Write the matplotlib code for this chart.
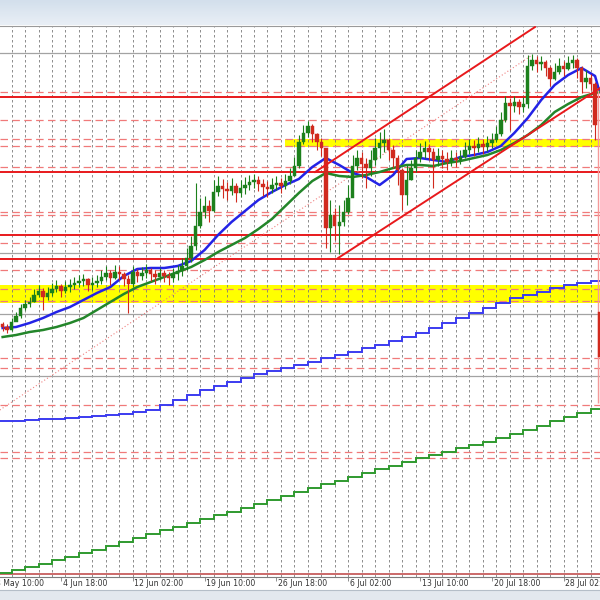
#-----Hourly chart with levels, channel and moving averages-----#
import numpy as np
import matplotlib
matplotlib.use("Agg")
import matplotlib.pyplot as plt
from matplotlib.patches import Rectangle
from matplotlib.collections import LineCollection, PatchCollection

#-----Time axis (hourly bars)-----#
view_hours = (19.3, 1088.8)
grid_hours = np.arange(40, 1073, 24)          # one dotted line per day
tick_hours = np.arange(0, 1025, 128)
tick_labels = ["28 May 10:00", "4 Jun 18:00", "12 Jun 02:00", "19 Jun 10:00",
               "26 Jun 18:00", "6 Jul 02:00", "13 Jul 10:00", "20 Jul 18:00",
               "28 Jul 02:00"]

#-----Price candles (8 hours each)-----#
candle_hours = 24 + 8 * np.arange(134)
first_open = 276
closes = [273, 270, 278, 284, 292, 296, 298, 305, 309, 303, 307, 311, 314, 309, 313, 315, 317, 319, 321, 315,
          317, 319, 323, 327, 322, 328, 326, 321, 316, 328, 324, 327, 330, 326, 323, 327, 324, 322, 326, 329,
          334, 342, 354, 374, 388, 394, 389, 408, 414, 411, 409, 414, 407, 412, 415, 418, 420, 416, 413, 411,
          415, 417, 414, 419, 424, 434, 458, 467, 474, 466, 458, 452, 372, 385, 374, 378, 388, 402, 434, 442,
          436, 432, 440, 452, 457, 460, 450, 442, 430, 405, 420, 432, 442, 448, 452, 448, 440, 444, 441, 438,
          442, 440, 443, 450, 454, 452, 456, 453, 457, 460, 466, 480, 497, 494, 498, 493, 496, 534, 540, 536,
          538, 532, 521, 528, 534, 531, 537, 540, 532, 518, 522, 516, 475, 243]
highs = [278, 276, 282, 288, 296, 300, 303, 311, 315, 312, 313, 317, 320, 316, 319, 321, 323, 325, 326, 322,
         323, 325, 330, 334, 330, 335, 334, 328, 325, 334, 331, 333, 336, 332, 330, 332, 330, 328, 332, 335,
         342, 352, 364, 417, 402, 404, 400, 420, 424, 421, 418, 422, 417, 420, 423, 425, 426, 424, 421, 419,
         422, 424, 422, 426, 432, 443, 465, 475, 479, 476, 467, 462, 452, 400, 392, 395, 400, 415, 445, 450,
         448, 442, 450, 462, 468, 471, 462, 455, 445, 432, 435, 440, 450, 457, 459, 456, 452, 452, 450, 448,
         450, 448, 450, 458, 461, 460, 463, 461, 464, 467, 474, 488, 504, 502, 504, 501, 503, 545, 546, 544,
         544, 540, 534, 537, 542, 539, 544, 545, 542, 534, 530, 526, 518, 288]
lows = [269, 267, 269, 279, 282, 290, 293, 298, 303, 290, 300, 304, 308, 303, 307, 308, 311, 313, 314, 309,
        310, 313, 316, 320, 315, 321, 320, 314, 287, 313, 318, 320, 322, 319, 316, 320, 318, 315, 318, 320,
        324, 330, 338, 350, 372, 382, 378, 388, 404, 402, 400, 405, 398, 403, 406, 410, 412, 409, 404, 403,
        407, 410, 407, 411, 416, 424, 432, 456, 463, 458, 450, 444, 352, 348, 360, 346, 374, 386, 415, 430,
        422, 412, 424, 435, 442, 448, 440, 432, 415, 390, 395, 420, 428, 438, 442, 440, 412, 434, 432, 430,
        434, 433, 436, 442, 446, 444, 448, 446, 449, 452, 458, 464, 478, 470, 488, 486, 488, 492, 530, 528,
        530, 524, 514, 520, 526, 524, 530, 532, 522, 507, 512, 510, 460, 197]
gap_open = {133: 288}

#-----Hourly moving averages (read every third candle)-----#
ma_idx = list(range(0, 133, 3)) + [133]
ma100 = [272, 273, 277, 282, 288, 293, 300, 307, 313, 324, 331, 332, 332, 334, 339, 350, 365, 378, 389, 400,
         408, 415, 421, 433, 442, 435, 427, 423, 415, 425, 441, 442, 440, 438, 443, 445, 448, 454, 467, 482,
         500, 515, 525, 532, 524, 508]
ma200 = [263, 265, 268, 270, 273, 277, 282, 290, 298, 306, 313, 318, 323, 328, 333, 340, 348, 355, 362, 371,
         381, 394, 407, 419, 427, 424, 423, 425, 428, 432, 435, 435, 434, 437, 439, 442, 445, 450, 457, 465,
         475, 488, 496, 503, 507, 508]

#-----Daily moving averages (one value per day)-----#
day_edges = 16 + 24 * np.arange(46)
ma100_daily = [179, 179.5, 180, 181, 181.5, 182, 183, 184, 185, 186, 188, 190, 195, 200, 205, 210, 214, 218,
               222, 226, 229, 232, 235, 238, 242, 245, 248, 252, 255, 259, 263, 267, 272, 277, 282, 287, 292,
               297, 302, 305, 308, 312, 315, 317, 319]
ma200_daily = [27, 30, 33, 36, 40, 43, 47, 50, 54, 58, 62, 66, 70, 73, 77, 81, 85, 88, 92, 96, 100, 104, 108,
               112, 116, 119, 123, 127, 131, 134, 138, 142, 145, 148, 152, 155, 158, 162, 166, 170, 174, 179,
               183, 187, 191]

#-----Levels-----#
gray_levels = [547, 347, 286, 224]
red_levels = [503, 428, 365, 341]
bottom_level = 26
dashed_levels = [508, 480, 461, 454, 433, 388, 385, 357, 330, 311, 299, 242, 232, 195, 148, 142]
zone_low = (297, 315, 0)      # bottom, top, start hour
zone_high = (453, 461, 527)

#-----Trend lines (hour, level)-----#
channel_top = [(581, 428), (973, 573)]
channel_bottom = [(622, 342), (1089, 512)]
dotted_trend = [(19, 190), (968, 545)]
spike_line = (1084.4, 197, 510)

up_col, down_col = "#1c801c", "#d02a1e"
red = "#e8191c"
dash_red = "#f07a7a"

fig = plt.figure(figsize=(6, 6), dpi=100)
fig.patch.set_facecolor("white")

# title strip and status strip of the terminal window
top = fig.add_axes([0, 575 / 600, 1, 25 / 600])
top.imshow(np.linspace(0, 1, 50).reshape(-1, 1), aspect="auto",
           cmap=matplotlib.colors.LinearSegmentedColormap.from_list("t", ["#d3dfec", "#e9eff6"]),
           extent=(0, 1, 0, 1), origin="upper")
top.axis("off")
bot = fig.add_axes([0, 0, 1, 10 / 600])
bot.set_facecolor("#e3e8ee")
bot.set_xticks([]); bot.set_yticks([])
for s in ["left", "right", "bottom"]:
    bot.spines[s].set_visible(False)
bot.spines["top"].set_color("#b5bec8")

ax = fig.add_axes([0, 23 / 600, 1, 551 / 600])
for s in ["left", "right"]:
    ax.spines[s].set_visible(False)
ax.spines["top"].set_color("#9a9a9a")
ax.spines["bottom"].set_color("#7d7d7d")
ax.set_yticks([])
ax.set_xticks(tick_hours)
ax.set_xticklabels([])
ax.tick_params(axis="x", direction="out", length=3, width=0.6, color="#7d7d7d")
ax.set_xlim(*view_hours)
ax.set_ylim(23, 574)
for h, lab in zip(tick_hours, tick_labels):
    ax.annotate(lab, xy=(h, 0), xycoords=("data", "axes fraction"), xytext=(1.2, -4.6),
                textcoords="offset points", ha="left", va="center", fontsize=5.6,
                color="#333333", annotation_clip=False)

# zones
for lo, hi, start in [zone_low, zone_high]:
    ax.add_patch(Rectangle((start, lo), view_hours[1] - start + 10, hi - lo, color="#ffff00", lw=0, zorder=0.5))

# grid
for h in grid_hours:
    ax.axvline(h, color="#7a7a7a", lw=0.6, ls=(0, (3, 3)), zorder=1)

# levels
for v in gray_levels:
    ax.axhline(v, color="#a3a3a3", lw=0.9, zorder=1.5)
for v in dashed_levels:
    ax.axhline(v, color=dash_red, lw=0.9, ls=(0, (6, 3.5)), zorder=1.6)
for v in red_levels:
    ax.axhline(v, color=red, lw=1.4, zorder=1.7)
ax.axhline(bottom_level, color="#c25050", lw=1.2, zorder=1.7)

# daily averages
ax.stairs(ma100_daily, day_edges, baseline=None, color="#3b3bf0", lw=1.4, zorder=2)
ax.stairs(ma200_daily, day_edges, baseline=None, color="#2f9a2f", lw=1.4, zorder=2)

# hourly averages
ax.plot(candle_hours[ma_idx], ma100, color="#2323e6", lw=1.8, zorder=3)
ax.plot(candle_hours[ma_idx], ma200, color="#23862a", lw=1.8, zorder=3)

# candles
opens = [first_open] + closes[:-1]
for k, v in gap_open.items():
    opens[k] = v
ax.vlines(spike_line[0], spike_line[1], spike_line[2], color="#f49a9a", lw=1.0, zorder=3.5)
wicks, wick_cols, bodies, body_cols = [], [], [], []
for h, o, c, hi, lo in zip(candle_hours, opens, closes, highs, lows):
    col = up_col if c >= o else down_col
    wicks.append([(h, lo), (h, hi)])
    wick_cols.append(col)
    bodies.append(Rectangle((h - 3.1, min(o, c)), 6.2, max(abs(c - o), 1.2)))
    body_cols.append(col)
ax.add_collection(LineCollection(wicks, colors=wick_cols, lw=0.8, zorder=4))
ax.add_collection(PatchCollection(bodies, facecolors=body_cols, edgecolors=body_cols, lw=0.3, zorder=4.1))

# channel and trend line
for seg in [channel_top, channel_bottom]:
    ax.plot([p[0] for p in seg], [p[1] for p in seg], color=red, lw=1.4, zorder=5)
ax.plot([p[0] for p in dotted_trend], [p[1] for p in dotted_trend], color="#f08080", lw=0.8,
        ls=(0, (1, 2)), zorder=2.5)

ax.set_xlim(*view_hours)
ax.set_ylim(23, 574)

fig.savefig("out.png", dpi=100)
